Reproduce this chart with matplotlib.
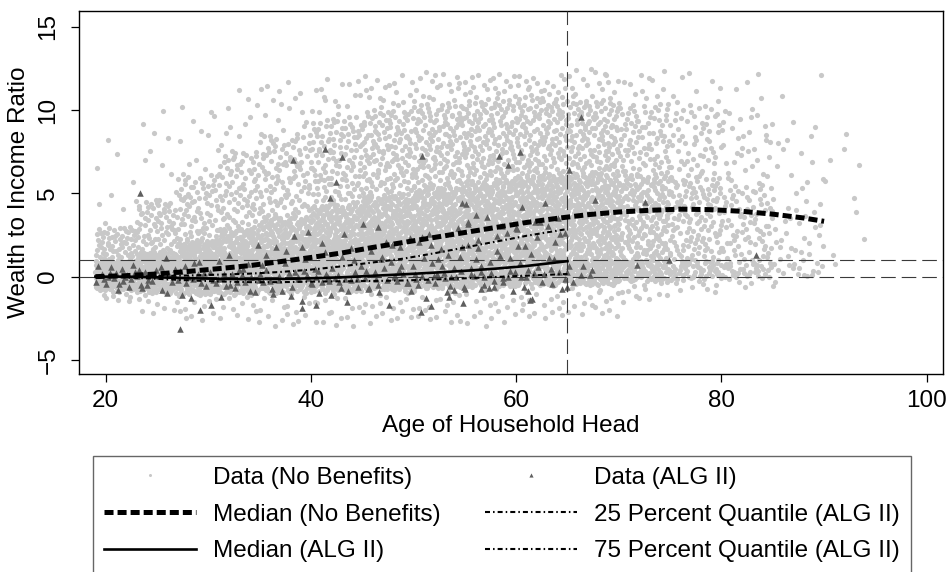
import numpy as np
import matplotlib
matplotlib.use("Agg")
import matplotlib.pyplot as plt
from matplotlib.lines import Line2D

plt.rcParams["font.family"] = ["Liberation Sans", "DejaVu Sans"]
plt.rcParams["lines.scale_dashes"] = False

# --- fitted curves (age, wealth-to-income ratio) ---
median_nb_age = [19, 22, 25, 28, 31, 34, 37, 40, 43, 46, 49, 52, 55, 58,
                 61, 64, 67, 70, 73, 76, 79, 82, 85, 88, 90]
median_nb_val = [0.0, 0.06, 0.16, 0.31, 0.48, 0.66, 0.90, 1.15, 1.42, 1.75,
                 2.05, 2.35, 2.65, 2.95, 3.25, 3.50, 3.72, 3.88, 3.98, 4.05,
                 4.02, 3.92, 3.75, 3.52, 3.32]

alg_age = [19, 22, 25, 28, 31, 34, 37, 40, 43, 46, 49, 52, 55, 58, 61, 65]
median_alg_val = [0.0, 0.0, -0.04, -0.09, -0.13, -0.15, -0.14, -0.10, -0.04,
                  0.05, 0.14, 0.24, 0.35, 0.48, 0.64, 0.93]
q25_alg_val = [0.0, -0.05, -0.13, -0.22, -0.29, -0.33, -0.33, -0.30, -0.28,
               -0.26, -0.23, -0.17, -0.10, -0.02, 0.06, 0.16]
q75_alg_val = [0.0, 0.0, 0.03, 0.07, 0.12, 0.18, 0.28, 0.42, 0.62, 0.85,
               1.08, 1.40, 1.75, 2.10, 2.45, 2.86]

# --- scatter clouds, summarised per age bin ---
# cumulative shares at which the per-bin y spreads below are given
probs = [0.0, 0.03, 0.25, 0.5, 0.75, 0.97, 1.0]

nb_edges = [19, 23, 27, 31, 35, 40, 45, 50, 55, 60, 65, 70, 75, 80, 85, 90, 94]
nb_counts = [300, 340, 350, 380, 500, 580, 640, 660, 640, 620, 600, 400,
             260, 160, 60, 10]
nb_quant = [
    [-1.5, -0.8, -0.1, 0.3, 0.9, 3.0, 9.0],
    [-2.3, -1.0, 0.0, 0.6, 1.5, 4.6, 10.5],
    [-2.6, -1.1, 0.1, 0.9, 2.2, 6.2, 10.4],
    [-2.9, -1.1, 0.3, 1.3, 2.9, 7.5, 11.5],
    [-3.0, -1.0, 0.5, 1.7, 3.6, 8.6, 11.8],
    [-3.0, -0.9, 0.7, 2.2, 4.3, 9.5, 11.9],
    [-2.8, -0.8, 0.8, 2.6, 4.9, 10.0, 12.2],
    [-2.8, -0.7, 1.0, 3.0, 5.4, 10.4, 12.3],
    [-3.0, -0.6, 1.2, 3.4, 5.8, 10.6, 12.2],
    [-2.6, -0.5, 1.3, 3.7, 6.1, 10.8, 12.2],
    [-2.4, -0.5, 1.0, 3.6, 6.2, 10.6, 12.5],
    [-1.6, -0.3, 1.0, 3.8, 6.2, 10.4, 12.4],
    [-1.0, -0.2, 1.0, 3.7, 6.0, 10.3, 12.4],
    [-0.7, -0.1, 0.9, 3.2, 5.5, 10.0, 12.3],
    [-0.5, 0.0, 0.8, 2.5, 4.8, 9.5, 12.5],
    [0.0, 0.3, 2.0, 4.8, 7.0, 8.8, 8.9],
]

alg_edges = [19, 25, 30, 35, 40, 45, 50, 55, 60, 65.3]
alg_counts = [30, 24, 24, 26, 28, 30, 32, 32, 32]
alg_quant = [
    [-0.9, -0.7, -0.3, 0.0, 0.3, 0.7, 1.0],
    [-1.8, -1.2, -0.4, 0.0, 0.3, 1.0, 1.6],
    [-1.8, -1.2, -0.4, -0.1, 0.3, 1.4, 2.2],
    [-1.8, -1.2, -0.4, 0.0, 0.4, 1.8, 2.6],
    [-2.0, -1.1, -0.3, 0.0, 0.6, 2.2, 3.2],
    [-2.0, -1.0, -0.3, 0.1, 0.9, 2.4, 3.4],
    [-2.0, -1.0, -0.2, 0.2, 1.3, 2.8, 3.8],
    [-2.0, -0.9, -0.1, 0.4, 1.8, 3.2, 4.0],
    [-1.4, -0.8, 0.1, 0.7, 2.4, 3.8, 4.5],
]

# individual ALG II households away from the bulk
alg_extra_age = [23.3, 27.2, 29.2, 31.2, 38.3, 38.4, 39.1, 39.1, 39.7, 40.5,
                 41.4, 41.9, 42.4, 43.0, 43.5, 46.5, 50.7, 50.8, 51.7, 53.5,
                 54.7, 54.8, 55.1, 55.3, 56.1, 56.6, 58.3, 59.2, 60.4, 60.6,
                 61.2, 61.3, 65.0, 65.1, 65.5, 66.3, 66.3, 66.5, 67.2, 67.4,
                 67.7, 71.8, 72.6, 74.9, 83.4]
alg_extra_val = [5.0, -3.14, -2.0, -1.24, 7.0, 2.46, 1.8, -1.88, 2.66, -1.68,
                 7.66, 4.7, 5.66, 7.16, -1.54, 3.0, -2.14, 7.24, -1.74, -1.24,
                 4.4, -1.6, 4.34, 3.26, 3.7, -0.74, 7.26, 6.7, 7.5, 4.2,
                 -0.84, -1.4, -0.64, 6.4, -0.34, 9.6, 0.1, 0.62, 0.1, 0.4,
                 4.6, 0.7, 4.5, 1.0, 1.3]


def halton(idx, base):
    out = np.zeros(len(idx))
    f = 1.0
    i = np.array(idx, dtype=float)
    while np.any(i > 0):
        f /= base
        out += f * (i % base)
        i = np.floor(i / base)
    return out


def spread_bins(edges, counts, quant, offset):
    # lay the points of each bin out evenly over its age span and y spread
    xs, ys = [], []
    start = offset
    for i, n in enumerate(counts):
        k = np.arange(start, start + n)
        start += n
        u = halton(k, 2)
        v = halton(k, 3)
        xs.append(edges[i] + u * (edges[i + 1] - edges[i]))
        ys.append(np.interp(v, probs, quant[i]))
    return np.concatenate(xs), np.concatenate(ys)


nb_x, nb_y = spread_bins(nb_edges, nb_counts, nb_quant, 1)
alg_x, alg_y = spread_bins(alg_edges, alg_counts, alg_quant, 9001)
alg_x = np.concatenate([alg_x, alg_extra_age])
alg_y = np.concatenate([alg_y, alg_extra_val])

fig = plt.figure(figsize=(9.53, 5.72), dpi=100)
ax = fig.add_axes([0.0834, 0.3456, 0.9058, 0.6352])

gray_pt = "#c8c8c8"
tri_col = "#5f5f5f"
ax.scatter(nb_x, nb_y, s=14, c=gray_pt, linewidths=0, zorder=1)
ax.scatter(alg_x, alg_y, s=22, c=tri_col, marker="^", linewidths=0, zorder=2)

ref_kw = dict(color="#3a3a3a", lw=0.8, dashes=(10.5, 4.3), zorder=3)
ax.axhline(0, **ref_kw)
ax.axhline(1, **ref_kw)
ax.axvline(65, **ref_kw)

thick_dash = (6.5, 2.9)
dash_dot = (3.6, 2.2, 1.1, 2.2)
ax.plot(median_nb_age, median_nb_val, color="black", lw=3.6,
        dashes=thick_dash, dash_capstyle="butt", zorder=5)
ax.plot(alg_age, median_alg_val, color="black", lw=1.9, zorder=5)
ax.plot(alg_age, q25_alg_val, color="black", lw=1.5, dashes=dash_dot,
        dash_capstyle="butt", zorder=4)
ax.plot(alg_age, q75_alg_val, color="black", lw=1.5, dashes=dash_dot,
        dash_capstyle="butt", zorder=4)

ax.set_xlim(17.45, 101.56)
ax.set_ylim(-5.86, 15.94)
ax.set_xticks([20, 40, 60, 80, 100])
ax.set_yticks([-5, 0, 5, 10, 15])
ax.tick_params(direction="out", length=5.5, width=0.9, labelsize=17.5,
               top=False, right=False)
ax.tick_params(axis="x", pad=6)
ax.tick_params(axis="y", pad=9)
for lab in ax.get_yticklabels():
    lab.set_rotation(90)
    lab.set_va("center")
    lab.set_ha("right")
for sp in ax.spines.values():
    sp.set_linewidth(1.0)

ax.set_xlabel("Age of Household Head", fontsize=17.5, labelpad=2)
ax.set_ylabel("Wealth to Income Ratio", fontsize=17.5, labelpad=5)

handles = [
    Line2D([], [], ls="none", marker="o", ms=2.2, mfc=gray_pt, mec="none"),
    Line2D([], [], color="black", lw=3.6, dashes=thick_dash,
           dash_capstyle="butt"),
    Line2D([], [], color="black", lw=1.9),
    Line2D([], [], ls="none", marker="^", ms=3, mfc=tri_col, mec="none"),
    Line2D([], [], color="black", lw=1.5, dashes=dash_dot,
           dash_capstyle="butt"),
    Line2D([], [], color="black", lw=1.5, dashes=dash_dot,
           dash_capstyle="butt"),
]
labels = ["Data (No Benefits)", "Median (No Benefits)", "Median (ALG II)",
          "Data (ALG II)", "25 Percent Quantile (ALG II)",
          "75 Percent Quantile (ALG II)"]
leg = fig.legend(handles, labels, ncol=2, loc="upper left",
                 bbox_to_anchor=(93 / 953, 1 - 456 / 572),
                 fontsize=17.5, frameon=True, fancybox=False,
                 handlelength=3.8, handletextpad=0.7, columnspacing=1.8,
                 labelspacing=0.6, borderpad=0.45, borderaxespad=0)
leg.get_frame().set_edgecolor("#404040")
leg.get_frame().set_linewidth(1.0)

fig.savefig("out.png", dpi=100)
